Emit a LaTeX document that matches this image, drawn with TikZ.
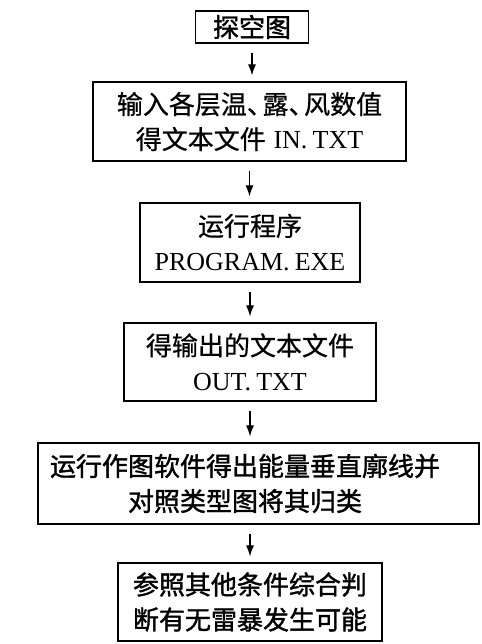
\documentclass[tikz,border=0pt]{standalone}
\usepackage{fontspec}
\setmainfont{Liberation Serif}
\newfontfamily\cjk[FakeBold=0.6]{Noto Sans CJK SC}
\newfontfamily\cjkb[FakeBold=1.4]{Noto Sans CJK SC}
\usetikzlibrary{arrows.meta}
\begin{document}
\begin{tikzpicture}[x=1pt,y=1pt]
\useasboundingbox (0,0) rectangle (481,644);
\tikzset{
  box/.style={draw, line width=1.2pt, align=center, inner sep=0pt,
    font=\fontsize{26}{35}\selectfont},
  plain/.style={align=center, inner sep=0pt, font=\fontsize{26}{35}\selectfont},
  arr/.style={line width=1.2pt, -{Latex[length=11pt,width=8pt]},
    shorten <=9pt, shorten >=6pt}
}
\node[box, minimum width=113pt, minimum height=32pt] (b1) at (252,617) {\cjkb 探空图};
\node[box, minimum width=313pt, minimum height=79pt] (b2) at (249.5,522.5)
  {{\cjk 输入各层温、\kern-.4em 露、\kern-.4em 风数值}\\{\cjk 得文本文件}\hspace{.3em}IN.\kern.2em TXT};
\node[box, minimum width=220pt, minimum height=79pt] (b3) at (250,401.5)
  {{\cjk 运行程序}\\PROGRAM.\kern.2em EXE};
\node[box, minimum width=252pt, minimum height=78pt] (b4) at (250,282)
  {{\cjk 得输出的文本文件}\\OUT.\kern.2em TXT};
\node[box, minimum width=441pt, minimum height=81pt] (b5) at (258.5,160.5) {};
\node[plain] (t5) at (245,160.5)
  {\cjkb 运行作图软件得出能量垂直廓线并\\\cjkb 对照类型图将其归类};
\node[box, minimum width=264pt, minimum height=78pt] (b6) at (250,42)
  {\cjkb 参照其他条件综合判\\\cjkb 断有无雷暴发生可能};
\draw[arr] (b1.south) -- (b1.south |- b2.north);
\draw[arr] (b2.south) -- (b2.south |- b3.north);
\draw[arr] (b3.south) -- (b3.south |- b4.north);
\draw[arr] (b4.south) -- (b4.south |- b5.north);
\draw[arr] (b4.south |- b5.south) -- (b6.north);
\end{tikzpicture}
\end{document}
